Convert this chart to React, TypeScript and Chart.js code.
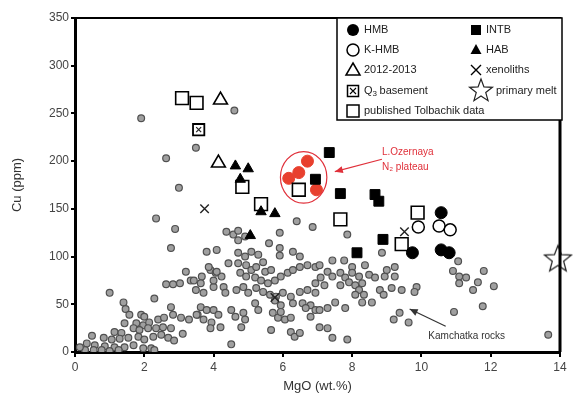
import { useEffect, useRef } from 'react';
import { Chart, registerables } from 'chart.js';
Chart.register(...registerables);

// ---- Data (MgO wt.%, Cu ppm) ----
const hmbX = [10.57, 9.74, 10.57, 10.8];
const hmbY = [146, 104, 107, 104];
const khmbX = [9.91, 10.51, 10.83];
const khmbY = [131, 132, 128];
const intbX = [7.34, 6.94, 7.66, 8.66, 8.77, 8.89, 8.14];
const intbY = [209, 181, 166, 165, 158, 118, 104];
const habX = [4.63, 5.0, 4.77, 5.37, 5.77, 5.06];
const habY = [195, 192, 181, 147, 145, 122];
const eruptX = [4.2, 4.14];
const eruptY = [264, 198];
const xenoX = [3.74, 9.51, 5.77];
const xenoY = [150, 126, 57];
const basementX = [3.57];
const basementY = [233];
const primaryX = [13.94];
const primaryY = [98];
const tolbX = [3.09, 3.51, 4.83, 5.37, 6.46, 7.66, 9.89, 9.43];
const tolbY = [266, 261, 173, 155, 170, 139, 146, 113];
const ozernX = [6.71, 6.46, 6.17, 6.97];
const ozernY = [200, 188, 182, 170];

const kamX = [
  3.20, 2.63, 2.83, 3.03, 3.34, 1.00, 1.40, 2.29, 1.46, 2.77, 1.57, 1.91, 2.00, 1.43, 1.77, 1.97, 2.14, 2.40, 2.57, 2.83,
  3.06, 3.29, 3.54, 1.69, 1.86, 2.11, 2.34, 2.54, 2.77, 1.14, 1.34, 0.49, 0.83, 1.06, 1.29, 1.54, 1.83, 2.00, 2.26, 2.49,
  2.69, 2.86, 3.11, 0.34, 0.57, 0.86, 1.14, 1.43, 1.69, 1.97, 2.20, 0.29, 0.54, 0.77, 1.00, 1.26, 2.29, 0.14,
  2.34, 2.89, 2.77, 4.51, 4.37, 4.57, 4.71, 4.71, 3.80, 4.09, 3.43, 3.66, 3.49, 3.71, 3.91, 4.06, 4.23, 4.00, 4.29, 4.34,
  5.91, 4.71, 4.91, 5.09, 5.29, 5.43, 5.60, 5.91, 5.91, 6.29, 6.49, 4.43, 4.71, 4.94, 5.09, 5.23, 5.49, 5.66, 4.77, 4.94,
  5.20, 5.37, 5.57, 5.77, 5.94, 6.14, 6.29, 6.49, 6.71, 6.94, 3.86, 4.09, 4.00, 3.63, 4.66, 4.86, 5.00, 5.23, 5.43, 5.63,
  5.80, 6.00, 6.23, 6.49, 6.71, 6.94, 5.20, 5.29, 5.77, 5.94, 6.29, 6.57, 6.80, 6.94, 3.63, 3.80, 4.00, 4.14, 3.51, 3.71,
  3.94, 4.20, 3.91, 4.51, 4.63, 4.86, 4.91, 4.80, 5.71, 5.86, 6.06, 6.23, 5.94, 5.66, 6.23, 6.34, 6.49, 6.66, 6.80, 7.06,
  1.91, 4.60, 3.49, 2.63, 3.00, 6.40, 6.86, 4.91,
  7.86, 8.86, 7.43, 7.77, 8.00, 8.37, 7.06, 7.29, 7.09, 7.43, 7.66, 7.80, 8.00, 8.20, 8.29, 8.49, 8.66, 8.94, 9.23, 9.00,
  9.23, 6.94, 7.20, 7.66, 7.91, 8.09, 8.20, 8.09, 8.34, 8.29, 8.57, 8.80, 8.91, 9.14, 9.43, 9.86, 9.80, 7.51, 7.29, 7.06,
  7.80, 7.29, 7.43, 7.86, 9.37, 9.20, 9.63,
  11.06, 10.91, 11.09, 11.29, 11.09, 11.49, 11.63, 11.80, 12.09, 11.77, 10.94, 13.66,
];
const kamY = [
  84, 71, 71, 72, 75, 62, 52, 56, 45, 47, 39, 39, 37, 30, 30, 28, 31, 34, 36, 39,
  36, 34, 39, 25, 23, 25, 25, 26, 25, 21, 20, 17, 15, 13, 14, 15, 16, 13, 16, 18,
  15, 12, 19, 9, 7, 6, 5, 5, 7, 4, 4, 2, 2, 2, 1, 2, 2, 5,
  140, 129, 109, 8, 126, 123, 127, 117, 105, 107, 75, 79, 65, 62, 86, 83, 79, 68, 68, 62,
  125, 104, 100, 105, 102, 94, 114, 109, 101, 105, 100, 93, 93, 91, 86, 89, 84, 86, 83, 79,
  78, 75, 72, 75, 79, 83, 86, 89, 91, 89, 89, 84, 75, 72, 65, 68, 62, 67, 63, 60,
  58, 62, 58, 63, 65, 62, 51, 44, 54, 49, 51, 51, 49, 44, 47, 44, 44, 39, 39, 34,
  31, 26, 25, 44, 37, 41, 34, 26, 41, 36, 34, 36, 42, 23, 21, 16, 20, 46, 37, 26,
  245, 253, 214, 203, 172, 137, 131, 121,
  123, 104, 96, 96, 89, 91, 91, 84, 78, 79, 83, 78, 83, 79, 72, 81, 78, 79, 79, 86,
  89, 72, 70, 70, 73, 70, 65, 60, 60, 52, 52, 65, 60, 67, 65, 68, 63, 52, 46, 44,
  46, 25, 15, 13, 41, 34, 31,
  95, 85, 79, 78, 72, 65, 73, 85, 69, 48, 42, 18,
];

const xTicks = [0, 2, 4, 6, 8, 10, 12, 14];
const yTicks = [0, 50, 100, 150, 200, 250, 300, 350];

const zip = (xs: number[], ys: number[]) => xs.map((x, i) => ({ x, y: ys[i] }));

const FONT = "'Liberation Sans', Arial, sans-serif";

function starPath(ctx: CanvasRenderingContext2D, cx: number, cy: number, r: number, ri: number) {
  ctx.beginPath();
  for (let i = 0; i < 10; i++) {
    const rad = i % 2 === 0 ? r : ri;
    const a = -Math.PI / 2 + (i * Math.PI) / 5;
    const px = cx + rad * Math.cos(a);
    const py = cy + rad * Math.sin(a);
    if (i === 0) ctx.moveTo(px, py); else ctx.lineTo(px, py);
  }
  ctx.closePath();
}

function makeStar(size: number, r: number, ri: number) {
  const c = document.createElement('canvas');
  c.width = size;
  c.height = size;
  const ctx = c.getContext('2d')!;
  starPath(ctx, size / 2, size / 2 + 1, r, ri);
  ctx.fillStyle = '#fff';
  ctx.fill();
  ctx.lineWidth = 1.3;
  ctx.strokeStyle = '#222';
  ctx.stroke();
  return c;
}

function drawStar(ctx: CanvasRenderingContext2D, cx: number, cy: number, r: number, ri: number) {
  starPath(ctx, cx, cy, r, ri);
  ctx.fillStyle = '#fff';
  ctx.fill();
  ctx.lineWidth = 1.2;
  ctx.strokeStyle = '#222';
  ctx.stroke();
}

function arrow(ctx: CanvasRenderingContext2D, x1: number, y1: number, x2: number, y2: number, color: string) {
  ctx.save();
  ctx.strokeStyle = color;
  ctx.fillStyle = color;
  ctx.lineWidth = 1.2;
  ctx.beginPath();
  ctx.moveTo(x1, y1);
  ctx.lineTo(x2, y2);
  ctx.stroke();
  const a = Math.atan2(y2 - y1, x2 - x1);
  const L = 8, W = 3.5;
  ctx.beginPath();
  ctx.moveTo(x2, y2);
  ctx.lineTo(x2 - L * Math.cos(a) + W * Math.sin(a), y2 - L * Math.sin(a) - W * Math.cos(a));
  ctx.lineTo(x2 - L * Math.cos(a) - W * Math.sin(a), y2 - L * Math.sin(a) + W * Math.cos(a));
  ctx.closePath();
  ctx.fill();
  ctx.restore();
}

const overlayPlugin = {
  id: 'overlay',
  afterDatasetsDraw(chart: any) {
    const ctx: CanvasRenderingContext2D = chart.ctx;
    const xs = chart.scales.x, ys = chart.scales.y;
    const X = (v: number) => xs.getPixelForValue(v);
    const Y = (v: number) => ys.getPixelForValue(v);
    const area = chart.chartArea;
    ctx.save();
    // frame top + right
    ctx.strokeStyle = '#000';
    ctx.lineWidth = 2;
    ctx.beginPath();
    ctx.moveTo(area.left, area.top);
    ctx.lineTo(area.right, area.top);
    ctx.stroke();
    ctx.lineWidth = 3;
    ctx.beginPath();
    ctx.moveTo(area.right, area.top - 1);
    ctx.lineTo(area.right, area.bottom);
    ctx.stroke();

    // red ellipse around L. Ozernaya
    ctx.strokeStyle = '#e0303a';
    ctx.lineWidth = 1.2;
    ctx.beginPath();
    const ecx = X(6.6), ecy = Y(183);
    ctx.ellipse(ecx, ecy, X(6.6 + 0.67) - ecx, ecy - Y(183 + 27), 0, 0, Math.PI * 2);
    ctx.stroke();
    ctx.fillStyle = '#e0303a';
    ctx.font = `10px ${FONT}`;
    ctx.textBaseline = 'middle';
    ctx.textAlign = 'left';
    ctx.fillText('L.Ozernaya', X(8.86), Y(209));
    ctx.fillText('N₂ plateau', X(8.86), Y(194));
    arrow(ctx, X(8.86), Y(202), X(7.5), Y(189), '#e0303a');

    // Kamchatka rocks
    ctx.fillStyle = '#333';
    ctx.fillText('Kamchatka rocks', X(10.2), Y(17));
    arrow(ctx, X(10.7), Y(27), X(9.66), Y(45), '#333');

    // legend box
    const lx = 337, ly = 18, lw = 225, lh = 102;
    ctx.fillStyle = '#fff';
    ctx.fillRect(lx, ly, lw, lh);
    ctx.strokeStyle = '#000';
    ctx.lineWidth = 1.5;
    ctx.strokeRect(lx, ly, lw, lh);
    ctx.font = `11px ${FONT}`;
    ctx.fillStyle = '#222';
    const rows = [30, 50, 70, 91, 111];
    const t1 = 364, t2 = 486;
    ctx.fillText('HMB', t1, rows[0]);
    ctx.fillText('K-HMB', t1, rows[1]);
    ctx.fillText('2012-2013', t1, rows[2]);
    ctx.fillText('Q', t1, rows[3]);
    const qw = ctx.measureText('Q').width;
    ctx.font = `8px ${FONT}`;
    ctx.fillText('3', t1 + qw, rows[3] + 3);
    ctx.font = `11px ${FONT}`;
    ctx.fillText(' basement', t1 + qw + 4, rows[3]);
    ctx.fillText('published Tolbachik data', t1, rows[4]);
    ctx.fillText('INTB', t2, rows[0]);
    ctx.fillText('HAB', t2, rows[1]);
    ctx.fillText('xenoliths', t2, rows[2]);
    ctx.fillText('primary melt', 496, rows[3]);

    const m1 = 353, m2 = 476;
    ctx.fillStyle = '#000';
    ctx.strokeStyle = '#000';
    ctx.beginPath(); ctx.arc(m1, rows[0], 6, 0, Math.PI * 2); ctx.fill();
    ctx.lineWidth = 1.5;
    ctx.beginPath(); ctx.arc(m1, rows[1], 6, 0, Math.PI * 2); ctx.stroke();
    ctx.beginPath(); ctx.moveTo(m1, rows[2] - 7); ctx.lineTo(m1 + 7, rows[2] + 5); ctx.lineTo(m1 - 7, rows[2] + 5); ctx.closePath(); ctx.stroke();
    ctx.strokeRect(m1 - 5.5, rows[3] - 5.5, 11, 11);
    ctx.lineWidth = 1.1;
    ctx.beginPath();
    ctx.moveTo(m1 - 3, rows[3] - 3); ctx.lineTo(m1 + 3, rows[3] + 3);
    ctx.moveTo(m1 + 3, rows[3] - 3); ctx.lineTo(m1 - 3, rows[3] + 3);
    ctx.stroke();
    ctx.lineWidth = 1.5;
    ctx.strokeRect(m1 - 6, rows[4] - 6, 12, 12);
    ctx.fillRect(m2 - 5, rows[0] - 5, 10, 10);
    ctx.beginPath(); ctx.moveTo(m2, rows[1] - 6); ctx.lineTo(m2 + 5.5, rows[1] + 4); ctx.lineTo(m2 - 5.5, rows[1] + 4); ctx.closePath(); ctx.fill();
    ctx.lineWidth = 1.4;
    ctx.beginPath();
    ctx.moveTo(m2 - 5, rows[2] - 5); ctx.lineTo(m2 + 5, rows[2] + 5);
    ctx.moveTo(m2 + 5, rows[2] - 5); ctx.lineTo(m2 - 5, rows[2] + 5);
    ctx.stroke();
    drawStar(ctx, 481, rows[3], 12, 5);
    ctx.restore();
  },
};

export default function App() {
  const ref = useRef<HTMLCanvasElement | null>(null);
  useEffect(() => {
    document.body.style.margin = '0';
    const star = makeStar(32, 14, 6);
    const black = '#000';
    const chart = new Chart(ref.current!, {
      type: 'scatter',
      data: {
        datasets: [
          { label: 'primary melt', data: zip(primaryX, primaryY), pointStyle: star as any, pointRadius: 14, clip: false as any },
          { label: 'HMB', data: zip(hmbX, hmbY), pointStyle: 'circle', pointRadius: 6, backgroundColor: black, borderColor: black, borderWidth: 1 },
          { label: 'K-HMB', data: zip(khmbX, khmbY), pointStyle: 'circle', pointRadius: 6, backgroundColor: '#fff', borderColor: black, borderWidth: 1.5 },
          { label: 'xenoliths', data: zip(xenoX, xenoY), pointStyle: 'crossRot', pointRadius: 6, borderColor: '#222', borderWidth: 1.4 },
          { label: 'Q3 basement x', data: zip(basementX, basementY), pointStyle: 'crossRot', pointRadius: 3.5, borderColor: '#222', borderWidth: 1.2 },
          { label: 'Q3 basement', data: zip(basementX, basementY), pointStyle: 'rect', pointRadius: 8, backgroundColor: '#fff', borderColor: black, borderWidth: 1.8 },
          { label: 'INTB', data: zip(intbX, intbY), pointStyle: 'rect', pointRadius: 7, backgroundColor: black, borderColor: black, borderWidth: 1 },
          { label: 'HAB', data: zip(habX, habY), pointStyle: 'triangle', pointRadius: 6, backgroundColor: black, borderColor: black, borderWidth: 1 },
          { label: '2012-2013', data: zip(eruptX, eruptY), pointStyle: 'triangle', pointRadius: 8, backgroundColor: '#fff', borderColor: black, borderWidth: 1.6 },
          { label: 'published Tolbachik data', data: zip(tolbX, tolbY), pointStyle: 'rect', pointRadius: 9, backgroundColor: '#fff', borderColor: black, borderWidth: 1.6 },
          { label: 'L. Ozernaya', data: zip(ozernX, ozernY), pointStyle: 'circle', pointRadius: 6, backgroundColor: '#e8402e', borderColor: '#e8402e', borderWidth: 1 },
          { label: 'Kamchatka rocks', data: zip(kamX, kamY), pointStyle: 'circle', pointRadius: 3.4, backgroundColor: '#a0a0a0', borderColor: '#505050', borderWidth: 1.2 },
        ],
      },
      options: {
        animation: false,
        responsive: false,
        maintainAspectRatio: false,
        layout: { padding: { top: 18, right: 10, left: 0, bottom: 0 } },
        plugins: { legend: { display: false }, tooltip: { enabled: false } },
        scales: {
          x: {
            type: 'linear', min: 0, max: 14,
            afterBuildTicks: (s: any) => { s.ticks = xTicks.map((v) => ({ value: v })); },
            afterFit: (s: any) => { s.height = 54; },
            ticks: { color: '#444', font: { family: FONT, size: 12 }, padding: 3 },
            grid: { drawOnChartArea: false, drawTicks: true, tickLength: 5, color: '#000', lineWidth: 2 },
            border: { display: true, color: '#000', width: 3 },
            title: { display: true, text: 'MgO (wt.%)', color: '#333', font: { family: FONT, size: 13 }, padding: { top: 0, bottom: 12 } },
          },
          y: {
            type: 'linear', min: 0, max: 350,
            afterBuildTicks: (s: any) => { s.ticks = yTicks.map((v) => ({ value: v })); },
            afterFit: (s: any) => { s.width = 75; },
            ticks: { color: '#444', font: { family: FONT, size: 12 }, padding: 2 },
            grid: { drawOnChartArea: false, drawTicks: true, tickLength: 4, color: '#000', lineWidth: 2 },
            border: { display: true, color: '#000', width: 3 },
            title: { display: true, text: 'Cu (ppm)', color: '#333', font: { family: FONT, size: 13 }, padding: { top: 10, bottom: 0 } },
          },
        },
      },
      plugins: [overlayPlugin],
    });
    return () => chart.destroy();
  }, []);
  return (
    <div style={{ width: 575, height: 406, background: '#fff' }}>
      <canvas ref={ref} width={575} height={406} style={{ width: 575, height: 406, display: 'block' }} />
    </div>
  );
}
